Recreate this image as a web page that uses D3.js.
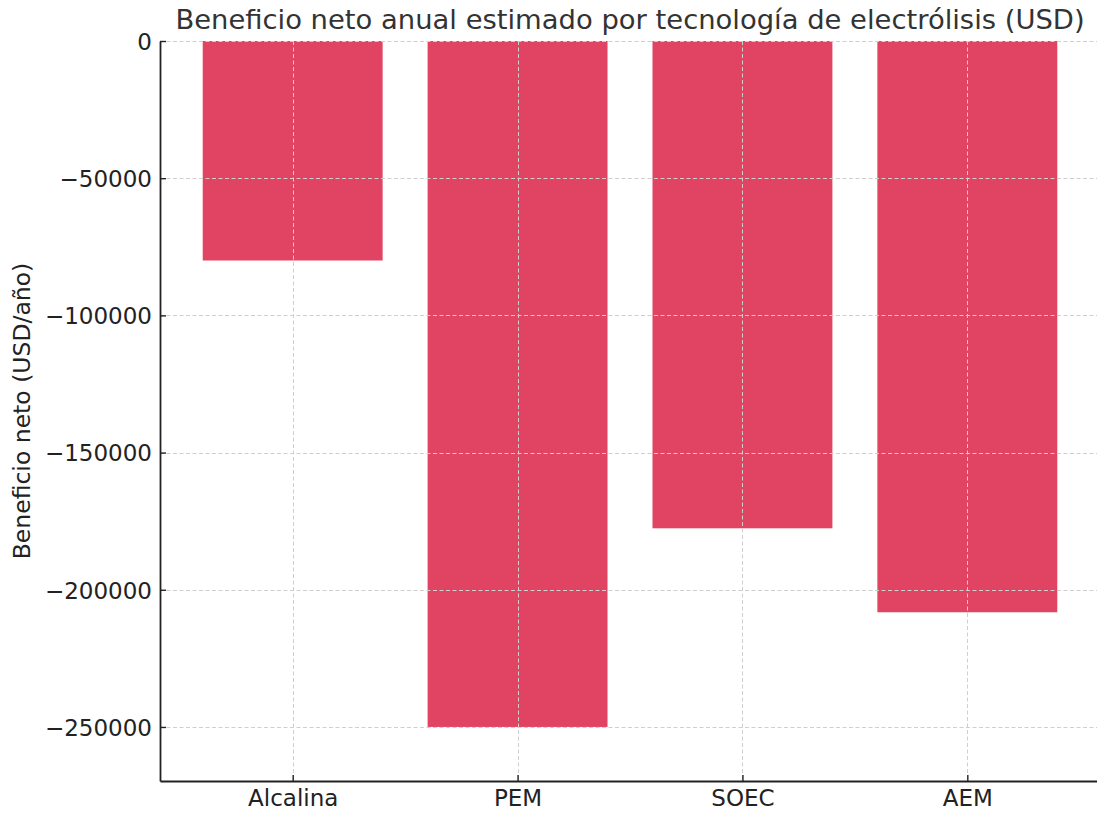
<!DOCTYPE html>
<html><head><meta charset="utf-8">
<script src="https://cdn.jsdelivr.net/npm/d3@7"></script>
<style>body{margin:0;background:#fff}svg{display:block}text{font-family:"DejaVu Sans",sans-serif}</style>
</head><body><svg id="c" width="1097" height="813"></svg>
<script>
const categories = ["Alcalina", "PEM", "SOEC", "AEM"];
const values = [-80000, -250000, -177600, -208200];
const yTicks = [0, -50000, -100000, -150000, -200000, -250000];
const title = "Beneficio neto anual estimado por tecnología de electrólisis (USD)";
const yLabel = "Beneficio neto (USD/año)";

const svg = d3.select("#c");
const L = 160, R = 1100, T = 41, B = 781;
const x = d3.scaleLinear().domain([-0.59, 3.59]).range([L, R]);
const y = d3.scaleLinear().domain([-269700, 0]).range([B, T]);
const barW = x(0.4) - x(-0.4);
const color = "#e14462";

// bars
svg.append("g").selectAll("rect").data(values).join("rect")
  .attr("x", (d, i) => x(i) - barW / 2)
  .attr("y", y(0))
  .attr("width", barW)
  .attr("height", d => y(d) - y(0))
  .attr("fill", color);

// grid (above bars)
const grid = svg.append("g").attr("stroke", "#cfcfcf").attr("stroke-width", 1).attr("stroke-dasharray", "4,2.5");
grid.selectAll("line.h").data(yTicks).join("line").attr("class", "h")
  .attr("x1", L).attr("x2", R).attr("y1", d => Math.round(y(d)) + 0.5).attr("y2", d => Math.round(y(d)) + 0.5);
grid.selectAll("line.v").data(categories).join("line").attr("class", "v")
  .attr("y1", T).attr("y2", B).attr("x1", (d, i) => Math.round(x(i)) + 0.5).attr("x2", (d, i) => Math.round(x(i)) + 0.5);

// axes
const fmt = d => d < 0 ? "\u2212" + Math.abs(d) : String(d);
const yAxis = d3.axisLeft(y).tickValues(yTicks).tickFormat(fmt).tickSizeInner(-6).tickSizeOuter(0).tickPadding(8);
const gy = svg.append("g").attr("transform", `translate(${L},0)`).call(yAxis);
const xAxis = d3.axisBottom(x).tickValues(d3.range(categories.length)).tickFormat(i => categories[i]).tickSizeInner(-6).tickSizeOuter(0).tickPadding(9);
const gx = svg.append("g").attr("transform", `translate(0,${B})`).call(xAxis);
[gy, gx].forEach(g => {
  g.select(".domain").attr("stroke", "#222").attr("stroke-width", 1.8);
  g.selectAll(".tick line").attr("stroke", "#222").attr("stroke-width", 1.4);
  g.selectAll(".tick text").attr("fill", "#222").attr("font-size", "23px").attr("font-family", "DejaVu Sans");
});
gy.selectAll(".tick text").attr("dy", "0.36em");

// title & label
svg.append("text").attr("x", (L + R) / 2).attr("y", 29).attr("text-anchor", "middle")
  .attr("font-size", "27.4px").attr("fill", "#333").text(title);
svg.append("text").attr("transform", `translate(30,${(T + B) / 2}) rotate(-90)`).attr("text-anchor", "middle")
  .attr("font-size", "23.5px").attr("fill", "#222").text(yLabel);
</script></body></html>
